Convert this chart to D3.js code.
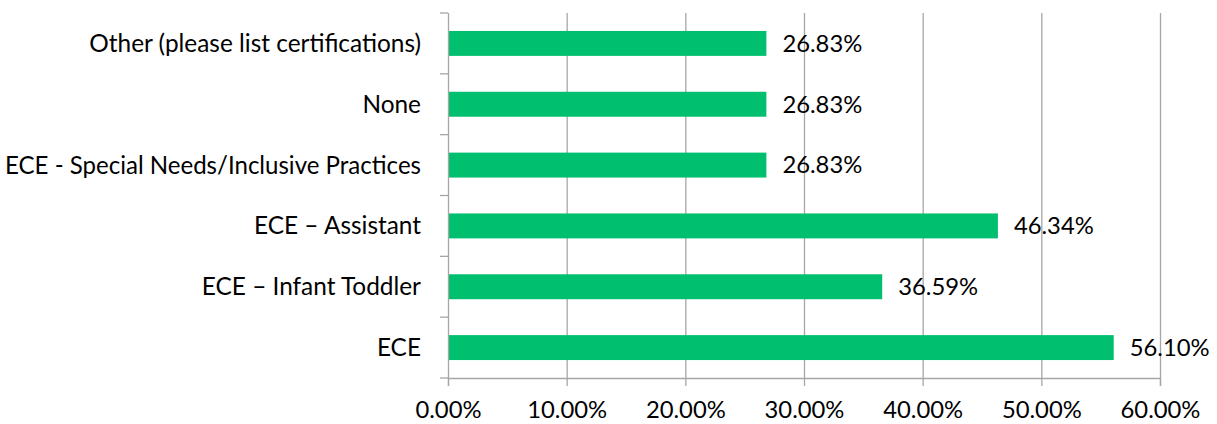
<!DOCTYPE html>
<html><head><meta charset="utf-8">
<script src="https://cdn.jsdelivr.net/npm/d3@7"></script>
<style>body{margin:0;background:#fff}svg{display:block}text{font-family:Lato,"Open Sans",sans-serif;fill:#000}</style>
</head><body><svg id="c" width="1217" height="424"></svg>
<script>
const categories = ["Other (please list certifications)","None","ECE - Special Needs/Inclusive Practices","ECE \u2013 Assistant","ECE \u2013 Infant Toddler","ECE"];
const values = [26.83,26.83,26.83,46.34,36.59,56.10];
const xTicks = [0,10,20,30,40,50,60];

const svg = d3.select("#c");
const L=448, R=1160, T=13, B=378;
const x = d3.scaleLinear().domain([0,60]).range([L,R]);
const y = d3.scaleBand().domain(categories).range([T,B]).paddingInner(0.59).paddingOuter(0.295);
const fs = 23.8, fsCat = 24.4, grid="#a6a6a6";

// gridlines
svg.append("g").selectAll("line").data(xTicks.slice(1)).join("line")
  .attr("x1",d=>x(d)+0.5).attr("x2",d=>x(d)+0.5).attr("y1",T).attr("y2",B)
  .attr("stroke",grid).attr("stroke-width",1.3);

// bars
svg.append("g").selectAll("rect").data(values).join("rect")
  .attr("x",L).attr("y",(d,i)=>y(categories[i])).attr("height",y.bandwidth())
  .attr("width",d=>x(d)-L).attr("fill","#00bf6f");

// x axis
const xa = svg.append("g").attr("transform",`translate(0,${B})`)
  .call(d3.axisBottom(x).tickValues(xTicks).tickSize(8).tickFormat(d=>d.toFixed(2)+"%"));
xa.select(".domain").attr("stroke",grid).attr("stroke-width",1.3);
xa.selectAll(".tick line").attr("stroke",grid).attr("stroke-width",1.3);
xa.selectAll(".tick text").attr("font-size",fs).attr("font-family","Lato").attr("dy","1.2em");

// y axis
const yb = d3.scaleLinear().domain([0,6]).range([T,B]);
const ya = svg.append("g").attr("transform",`translate(${L},0)`);
ya.append("line").attr("x1",0.5).attr("x2",0.5).attr("y1",T).attr("y2",B).attr("stroke",grid).attr("stroke-width",1.3);
ya.selectAll(".tk").data(d3.range(7)).join("line").attr("class","tk")
  .attr("x1",-8).attr("x2",0).attr("y1",d=>yb(d)).attr("y2",d=>yb(d)).attr("stroke",grid).attr("stroke-width",1.3);
const maxW = L - 27 - 5;
ya.selectAll("text").data(categories).join("text")
  .attr("x",-27).attr("y",d=>y(d)+y.bandwidth()/2).attr("dy","0.35em")
  .attr("text-anchor","end").attr("font-size",fsCat).text(d=>d)
  .each(function(){ if(this.getComputedTextLength()>maxW){ d3.select(this).attr("textLength",maxW).attr("lengthAdjust","spacingAndGlyphs"); } });

// data labels
svg.append("g").selectAll("text").data(values).join("text")
  .attr("x",d=>x(d)+16).attr("y",(d,i)=>y(categories[i])+y.bandwidth()/2).attr("dy","0.35em")
  .attr("font-size",fs).text(d=>d.toFixed(2)+"%");
</script></body></html>
